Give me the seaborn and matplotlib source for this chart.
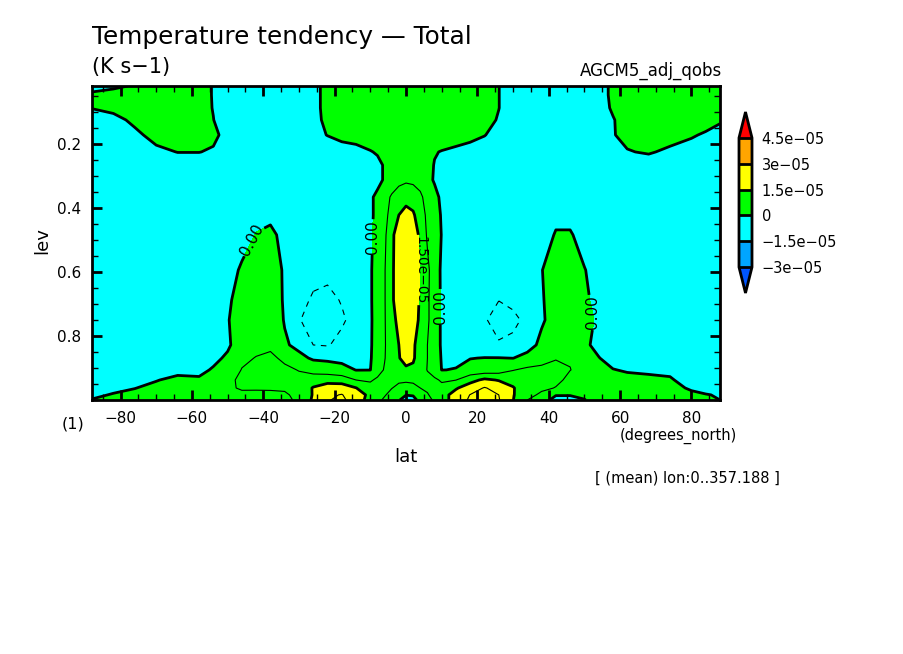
import numpy as np
import matplotlib
matplotlib.use("Agg")
import matplotlib.pyplot as plt
from matplotlib.colors import ListedColormap, BoundaryNorm
from matplotlib.ticker import MultipleLocator
import seaborn as sns

lat = [-88, -82, -76, -70, -64, -58, -54, -50, -46, -42, -38, -34,
       -30, -26, -22, -18, -14, -10, -8, -6, -4, -2, 0,
       2, 4, 6, 8, 10, 14, 18, 22, 26, 30, 34,
       38, 42, 46, 50, 54, 58, 62, 68, 74, 80, 84, 88]

lev = [0.019, 0.047, 0.0875, 0.125, 0.172, 0.225, 0.266, 0.3125, 0.366, 0.422, 0.484,
       0.594, 0.6875, 0.75, 0.828, 0.869, 0.906, 0.9375, 0.9625, 0.984, 1.0]

# zonal mean tendency, in units of 1e-5 K/s
tendency = [
    [-.2, -.1, .05, .2, .3, .2, -.03, -.3, -.4, -.4, -.4, -.4, -.4, -.2, .2, .3, .4, .4, .4, .4, .4, .4, .4,
     .4, .4, .4, .4, .4, .4, .4, .3, .01, -.3, -.4, -.4, -.4, -.4, -.4, -.2, .1, .3, .4, .4, .4, .4, .4],
    [.1, .2, .25, .3, .35, .2, -.03, -.3, -.4, -.4, -.4, -.4, -.4, -.2, .2, .3, .4, .4, .4, .4, .4, .4, .4,
     .4, .4, .4, .4, .4, .4, .4, .3, .01, -.3, -.4, -.4, -.4, -.4, -.4, -.2, .1, .3, .4, .4, .4, .4, .4],
    [.02, .12, .2, .3, .35, .2, -.02, -.3, -.4, -.4, -.4, -.4, -.4, -.2, .2, .3, .4, .4, .45, .45, .45, .45, .45,
     .45, .45, .45, .45, .45, .4, .4, .3, .01, -.3, -.4, -.4, -.4, -.4, -.4, -.2, .06, .3, .4, .4, .35, .3, .2],
    [-.3, -.14, .1, .25, .35, .2, .01, -.3, -.4, -.4, -.4, -.4, -.4, -.2, .15, .3, .4, .45, .45, .45, .45, .45, .45,
     .45, .45, .45, .45, .45, .4, .35, .2, -.05, -.3, -.4, -.4, -.4, -.4, -.4, -.2, -.03, .2, .35, .35, .3, .2, .05],
    [-.35, -.3, -.1, .15, .3, .3, .1, -.15, -.35, -.4, -.4, -.4, -.4, -.2, .02, .2, .25, .3, .4, .4, .45, .45, .45,
     .45, .45, .4, .4, .35, .25, .15, .02, -.2, -.35, -.4, -.4, -.4, -.4, -.4, -.2, -.03, .14, .25, .2, .05, -.06, -.15],
    [-.4, -.4, -.3, -.1, .01, .01, -.05, -.3, -.4, -.4, -.4, -.4, -.4, -.4, -.4, -.3, -.2, -.03, .05, .2, .35, .4, .4,
     .4, .35, .2, .04, -.03, -.12, -.2, -.3, -.35, -.4, -.4, -.4, -.4, -.4, -.4, -.3, -.15, -.03, .05, -.1, -.2, -.3, -.35],
    [-.4, -.45, -.45, -.4, -.25, -.25, -.3, -.4, -.45, -.45, -.45, -.45, -.45, -.45, -.45, -.4, -.35, -.25, -.13, .05, .25, .4, .45,
     .45, .35, .2, -.03, -.2, -.3, -.4, -.4, -.4, -.45, -.45, -.45, -.45, -.45, -.45, -.4, -.35, -.3, -.25, -.3, -.4, -.4, -.4],
    [-.4, -.45, -.45, -.45, -.45, -.45, -.45, -.45, -.45, -.45, -.45, -.45, -.45, -.45, -.45, -.45, -.4, -.3, -.13, .05, .3, .55, .65,
     .6, .45, .15, -.05, -.25, -.35, -.4, -.45, -.45, -.45, -.45, -.45, -.45, -.45, -.45, -.45, -.45, -.45, -.45, -.45, -.45, -.45, -.45],
    [-.4, -.45, -.45, -.45, -.45, -.45, -.45, -.45, -.45, -.4, -.3, -.4, -.45, -.45, -.45, -.4, -.3, -.07, .1, .45, .85, 1.1, 1.2,
     1.15, .9, .45, .15, -.1, -.3, -.4, -.45, -.45, -.45, -.45, -.45, -.4, -.4, -.45, -.45, -.45, -.45, -.45, -.45, -.45, -.45, -.45],
    [-.4, -.45, -.45, -.45, -.45, -.45, -.45, -.4, -.3, -.2, -.1, -.3, -.4, -.45, -.45, -.4, -.3, -.07, .1, .55, 1.0, 1.5, 1.8,
     1.6, 1.1, .6, .25, -.05, -.3, -.4, -.45, -.45, -.45, -.4, -.3, -.15, -.15, -.3, -.4, -.45, -.45, -.45, -.45, -.45, -.45, -.45],
    [-.4, -.45, -.45, -.45, -.45, -.4, -.4, -.35, -.3, .03, .1, -.13, -.35, -.45, -.45, -.4, -.3, -.07, .15, .6, 1.35, 1.85, 2.0,
     1.9, 1.35, .65, .3, -.02, -.25, -.35, -.45, -.45, -.4, -.3, -.3, .05, .05, -.2, -.35, -.4, -.45, -.45, -.45, -.45, -.45, -.45],
    [-.45, -.45, -.45, -.45, -.45, -.45, -.4, -.3, .1, .3, .4, -.1, -.3, -.5, -.55, -.35, -.25, -.05, .2, .7, 1.4, 1.8, 2.0,
     1.95, 1.48, .9, .35, -.1, -.25, -.35, -.4, -.45, -.4, -.3, -.01, .15, .2, .02, -.2, -.35, -.45, -.45, -.45, -.45, -.45, -.45],
    [-.45, -.45, -.45, -.45, -.45, -.4, -.35, -.1, .25, .5, .5, -.1, -.5, -.85, -.95, -.7, -.4, -.05, .2, .7, 1.4, 1.8, 2.0,
     1.95, 1.4, .85, .4, -.1, -.3, -.45, -.55, -.74, -.6, -.35, -.04, .2, .25, .15, -.25, -.35, -.4, -.4, -.4, -.4, -.4, -.4],
    [-.45, -.45, -.45, -.45, -.4, -.35, -.3, -.05, .4, .6, .5, -.05, -.72, -.95, -1.05, -.85, -.5, -.06, .2, .7, 1.25, 1.7, 1.9,
     1.8, 1.38, .85, .4, -.1, -.3, -.5, -.7, -.95, -.9, -.6, -.08, .25, .35, .2, -.1, -.3, -.4, -.4, -.4, -.4, -.4, -.4],
    [-.45, -.45, -.45, -.4, -.35, -.3, -.25, -.1, .35, .55, .6, .1, -.2, -.75, -.8, -.55, -.3, -.05, .2, .7, 1.1, 1.5, 1.7,
     1.6, 1.2, .75, .4, -.1, -.3, -.4, -.55, -.7, -.6, -.25, .15, .4, .5, .1, -.15, -.25, -.3, -.35, -.35, -.35, -.35, -.35],
    [-.4, -.4, -.4, -.35, -.3, -.25, -.15, .1, .6, .78, .9, .6, .2, -.1, -.15, -.25, -.3, -.05, .3, .72, 1.1, 1.47, 1.7,
     1.6, 1.1, .75, .4, -.05, -.1, -.02, .02, .02, -.01, .2, .55, .74, .72, .4, .02, -.2, -.25, -.25, -.25, -.3, -.3, -.3],
    [-.35, -.35, -.3, -.25, -.12, -.15, .06, .3, .78, 1.05, 1.0, .9, .72, .5, .4, .3, -.02, -.01, .5, .8, 1.0, 1.2, 1.4,
     1.35, 1.1, .72, .45, -.01, .02, .25, .3, .4, .72, .9, .88, .8, .76, .6, .3, .02, -.05, -.08, -.1, -.2, -.25, -.3],
    [-.3, -.25, -.15, -.02, .1, .08, .25, .35, 1.1, 1.2, 1.2, 1.0, .95, 1.12, 1.2, 1.1, .75, .68, .85, .9, .9, .85, .85,
     .85, .95, .95, .85, .68, .74, 1.25, 1.65, 1.45, 1.25, 1.05, 1.0, .9, .6, .4, .3, .2, .15, .1, .05, -.2, -.3, -.3],
    [-.15, -.1, -.01, .1, .2, .25, .35, .6, .85, .82, .82, .85, 1.0, 1.55, 1.9, 1.95, 1.52, .95, .95, .9, .77, .6, .5,
     .6, .75, .85, .9, .9, 1.42, 1.9, 2.3, 2.0, 1.55, 1.05, .9, .72, .55, .4, .3, .25, .2, .15, .12, -.05, -.2, -.2],
    [-.08, .03, .1, .2, .25, .3, .35, .4, .55, .6, .62, .65, .95, 1.55, 2.15, 2.28, 1.9, 1.3, .95, .8, .55, .3, .02,
     .05, .35, .7, .95, 1.2, 1.8, 2.27, 2.6, 2.25, 1.55, 1.0, .6, .05, .05, .1, .2, .22, .2, .18, .15, .08, .03, -.05],
    [.02, .1, .15, .2, .25, .3, .3, .35, .45, .5, .5, .5, .95, 1.6, 2.2, 2.4, 1.9, 1.2, .9, .65, .35, .05, -.3,
     -.2, .2, .55, .85, 1.3, 1.7, 2.4, 2.8, 2.3, 1.52, .75, .4, -.3, -.3, -.02, .2, .22, .2, .18, .15, .12, .08, .0],
]

fill_levels = [-3, -1.5, 0, 1.5, 3, 4.5]
fill_labels = ["\u22123e\u221205", "\u22121.5e\u221205", "0", "1.5e\u221205", "3e\u221205", "4.5e\u221205"]
fill_colors = ["#0055ff", "#00a5ff", "#00ffff", "#00ff00", "#ffff00", "#ffa500", "#ff0000"]

sns.set_theme(style="ticks", rc={
    "xtick.direction": "in", "ytick.direction": "in",
    "xtick.top": True, "ytick.right": True,
    "axes.linewidth": 2, "axes.edgecolor": "black",
    "xtick.color": "black", "ytick.color": "black", "text.color": "black",
})
plt.rcParams["font.family"] = ["DejaVu Sans"]

W, H = 904, 654
fig = plt.figure(figsize=(W / 100, H / 100), dpi=100)
ax = fig.add_axes([92 / W, 1 - 400 / H, 628 / W, 314 / H])

palette = sns.color_palette(fill_colors)
cmap = ListedColormap(palette[1:-1])
cmap.set_under(palette[0])
cmap.set_over(palette[-1])
norm = BoundaryNorm(fill_levels, cmap.N)

z = np.array(tendency)
cf = ax.contourf(lat, lev, z, levels=fill_levels, cmap=cmap, norm=norm, extend="both")
ax.contour(lat, lev, z, levels=[-0.75], colors="black", linewidths=0.8, linestyles=[(0, (5, 5))])
ax.contour(lat, lev, z, levels=[0.75, 2.25], colors="black", linewidths=0.8, linestyles="solid")
cs0 = ax.contour(lat, lev, z, levels=[0], colors="black", linewidths=2, linestyles="solid")
cs1 = ax.contour(lat, lev, z, levels=[1.5], colors="black", linewidths=2, linestyles="solid")

labels0 = ax.clabel(cs0, fmt={0: "0.00"}, fontsize=11, inline_spacing=1,
                    manual=[(-44.3, 0.494), (-9.3, 0.491), (9.6, 0.709), (51.6, 0.728)])
labels1 = ax.clabel(cs1, fmt={1.5: "1.50e\u221205"}, fontsize=10, inline_spacing=1,
                    manual=[(3.6, 0.594)])
for t, angle in zip(labels0, [62, 90, 90, 90]):
    t.set_rotation(angle)
for t in labels1:
    t.set_rotation(270)

ax.set_xlim(-88, 88)
ax.set_ylim(1.0, 0.019)
ax.xaxis.set_major_locator(MultipleLocator(20))
ax.xaxis.set_minor_locator(MultipleLocator(5))
ax.yaxis.set_major_locator(MultipleLocator(0.2))
ax.yaxis.set_minor_locator(MultipleLocator(0.05))
ax.set_yticks([0.2, 0.4, 0.6, 0.8])
ax.tick_params(which="major", length=7, width=2, labelsize=11, top=True, right=True)
ax.tick_params(axis="x", which="major", pad=8)
ax.tick_params(axis="y", which="major", pad=8)
ax.tick_params(which="minor", length=4, width=1, top=True, right=True)
ax.set_axisbelow(False)

cax = fig.add_axes([739 / W, 1 - 293 / H, 13 / W, 181 / H])
cb = fig.colorbar(cf, cax=cax, extend="both", extendfrac=0.2, drawedges=True)
cb.set_ticks(fill_levels)
cb.set_ticklabels(fill_labels)
cb.ax.tick_params(length=0, labelsize=10.5, pad=7)
cb.outline.set_linewidth(2)
cb.dividers.set_linewidth(2)


def label(x, y, s, **kw):
    fig.text(x / W, 1 - y / H, s, color="black", va="center", **kw)


label(92, 37, "Temperature tendency \u2014 Total", fontsize=17.8)
label(92, 67, "(K s\u22121)", fontsize=15)
label(722, 71, "AGCM5_adj_qobs", fontsize=12, ha="right")
label(42, 241, "lev", fontsize=13, rotation=90, ha="center")
label(406, 457, "lat", fontsize=13, ha="center")
label(73, 424, "(1)", fontsize=11.5, ha="center")
label(678, 436, "(degrees_north)", fontsize=10.5, ha="center")
label(687, 478, "[ (mean) lon:0..357.188 ]", fontsize=10.5, ha="center")

fig.savefig("out.png", dpi=100)
